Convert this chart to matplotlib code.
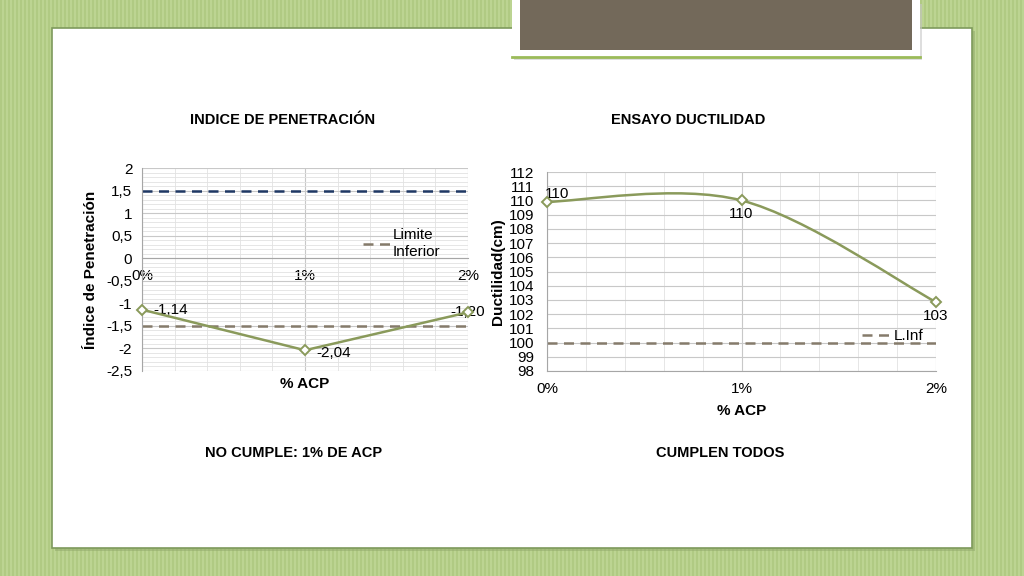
import numpy as np
import matplotlib
matplotlib.use('Agg')
import matplotlib.pyplot as plt
from matplotlib.patches import Rectangle
from matplotlib.path import Path
from matplotlib.patches import PathPatch
from matplotlib.ticker import MultipleLocator, FuncFormatter

plt.rcParams['font.family'] = ['Liberation Sans', 'DejaVu Sans']

# data
acp_pos = [0, 1, 2]
acp_labels = ['0%', '1%', '2%']
ip_values = [-1.14, -2.04, -1.20]
ip_upper = 1.5
ip_lower = -1.5
duct_values = [109.9, 110.0, 102.85]
duct_lower = 100

OLIVE = '#8A9A5B'
NAVY = '#1F3864'
GRAYDASH = '#857B6B'
FS = 11

fig = plt.figure(figsize=(10.24, 5.76), dpi=100)
fig.patch.set_facecolor('#BCD492')

# slide decoration in pixel coordinates
bg = fig.add_axes([0, 0, 1, 1])
bg.set_xlim(0, 1024)
bg.set_ylim(576, 0)
bg.axis('off')
for x in range(0, 1024, 4):
    bg.add_patch(Rectangle((x, 0), 2, 576, color='#A3BF72', alpha=0.45, lw=0))
bg.add_patch(Rectangle((55, 31), 920, 520, color='#8FA86A', alpha=0.5, lw=0))
bg.add_patch(Rectangle((52, 28), 920, 520, facecolor='white', edgecolor='#7E9A5C', lw=1.2))
bg.add_patch(Rectangle((514, 4), 408, 56, color='#C8C8C8', alpha=0.6, lw=0))
bg.add_patch(Rectangle((512, -2), 408, 59, facecolor='white', edgecolor='none'))
bg.plot([512, 920], [57, 57], color='#9BBB59', lw=2)
bg.add_patch(Rectangle((520, -2), 392, 52, facecolor='#73695A', lw=0))

fig.text(283/1024, 1-120/576, 'INDICE DE PENETRACIÓN', ha='center', va='center',
         fontsize=10.5, fontweight='bold')
fig.text(688/1024, 1-120/576, 'ENSAYO DUCTILIDAD', ha='center', va='center',
         fontsize=10.5, fontweight='bold')
fig.text(294/1024, 1-453/576, 'NO CUMPLE: 1% DE ACP', ha='center', va='center',
         fontsize=10.5, fontweight='bold')
fig.text(720/1024, 1-453/576, 'CUMPLEN TODOS', ha='center', va='center',
         fontsize=10.5, fontweight='bold')

comma = FuncFormatter(lambda v, p: ('%g' % v).replace('.', ','))


def grid_style(ax, ypad):
    ax.grid(which='major', color='#C8C8C8', lw=0.8)
    ax.grid(which='minor', color='#E2E2E2', lw=0.6)
    ax.set_axisbelow(True)
    for s in ['top', 'right']:
        ax.spines[s].set_visible(False)
    for s in ['left', 'bottom']:
        ax.spines[s].set_color('#A6A6A6')
    ax.tick_params(which='both', length=0, labelsize=FS)
    ax.tick_params(axis='y', pad=ypad)


# left chart: Indice de penetracion
ax1 = fig.add_axes([142/1024, 1-371/576, 326/1024, 203/576])
ax1.set_xlim(0, 2)
ax1.set_ylim(-2.5, 2)
ax1.xaxis.set_major_locator(MultipleLocator(1))
ax1.xaxis.set_minor_locator(MultipleLocator(0.2))
ax1.yaxis.set_major_locator(MultipleLocator(0.5))
ax1.yaxis.set_minor_locator(MultipleLocator(0.1))
ax1.yaxis.set_major_formatter(comma)
ax1.set_xticks(acp_pos, acp_labels)
grid_style(ax1, 7)
ax1.spines['bottom'].set_position(('data', 0))
ax1.tick_params(axis='x', pad=8)
ax1.axhline(ip_upper, color=NAVY, lw=1.8, ls=(0, (4, 2.6)))
ax1.axhline(ip_lower, color=GRAYDASH, lw=1.8, ls=(0, (4, 2.6)), label='Limite\nInferior')
ax1.plot(acp_pos, ip_values, color=OLIVE, lw=1.8, marker='D', ms=5,
         mfc='white', mec=OLIVE, mew=1.4, clip_on=False, zorder=4)
offsets = [(8, 0, 'left'), (8, -2, 'left'), (0, 0, 'center')]
for x, v, (dx, dy, ha) in zip(acp_pos, ip_values, offsets):
    ax1.annotate(('%.2f' % v).replace('.', ','), (x, v), xytext=(dx, dy),
                 textcoords='offset points', ha=ha, va='center', fontsize=FS)
ax1.set_xlabel('% ACP', fontsize=FS, fontweight='bold')
ax1.xaxis.set_label_coords(0.5, -0.03)
ax1.set_ylabel('Índice de Penetración', fontsize=FS, fontweight='bold')
ax1.yaxis.set_label_coords(-0.135, 0.5)
ax1.legend(loc='upper left', bbox_to_anchor=(0.655, 0.74), frameon=False,
           fontsize=FS, handlelength=1.8, handletextpad=0.15, borderpad=0,
           labelspacing=0.2)

# right chart: Ductilidad (smoothed line as in Excel)
ax2 = fig.add_axes([547/1024, 1-371/576, 389/1024, 199/576])
ax2.set_xlim(0, 2)
ax2.set_ylim(98, 112)
ax2.xaxis.set_minor_locator(MultipleLocator(0.2))
ax2.yaxis.set_major_locator(MultipleLocator(1))
ax2.set_xticks(acp_pos, acp_labels)
grid_style(ax2, 9)
ax2.tick_params(axis='x', pad=8)
ax2.axhline(duct_lower, color=GRAYDASH, lw=1.8, ls=(0, (4, 2.6)), label='L.Inf')

pts = np.column_stack([acp_pos, duct_values]).astype(float)
ext = np.vstack([pts[0], pts, pts[-1]])
verts = [pts[0]]
codes = [Path.MOVETO]
for i in range(len(pts) - 1):
    p0, p1, p2, p3 = ext[i], ext[i+1], ext[i+2], ext[i+3]
    verts += [p1 + (p2 - p0)/6, p2 - (p3 - p1)/6, p2]
    codes += [Path.CURVE4]*3
ax2.add_patch(PathPatch(Path(verts, codes), facecolor='none', edgecolor=OLIVE, lw=1.8))
ax2.plot(acp_pos, duct_values, ls='none', marker='D', ms=5,
         mfc='white', mec=OLIVE, mew=1.4, zorder=4, clip_on=False)
doffs = [(7, 6), (0, -10), (0, -10)]
for x, v, (dx, dy) in zip(acp_pos, duct_values, doffs):
    ax2.annotate('%d' % round(v), (x, v), xytext=(dx, dy),
                 textcoords='offset points', ha='center', va='center', fontsize=FS)
ax2.set_xlabel('% ACP', fontsize=FS, fontweight='bold', labelpad=6)
ax2.set_ylabel('Ductilidad(cm)', fontsize=FS, fontweight='bold')
ax2.yaxis.set_label_coords(-0.108, 0.5)
ax2.legend(loc='upper left', bbox_to_anchor=(0.789, 0.25), frameon=False,
           fontsize=FS, handlelength=1.8, handletextpad=0.3, borderpad=0)

fig.savefig('out.png', dpi=100)
